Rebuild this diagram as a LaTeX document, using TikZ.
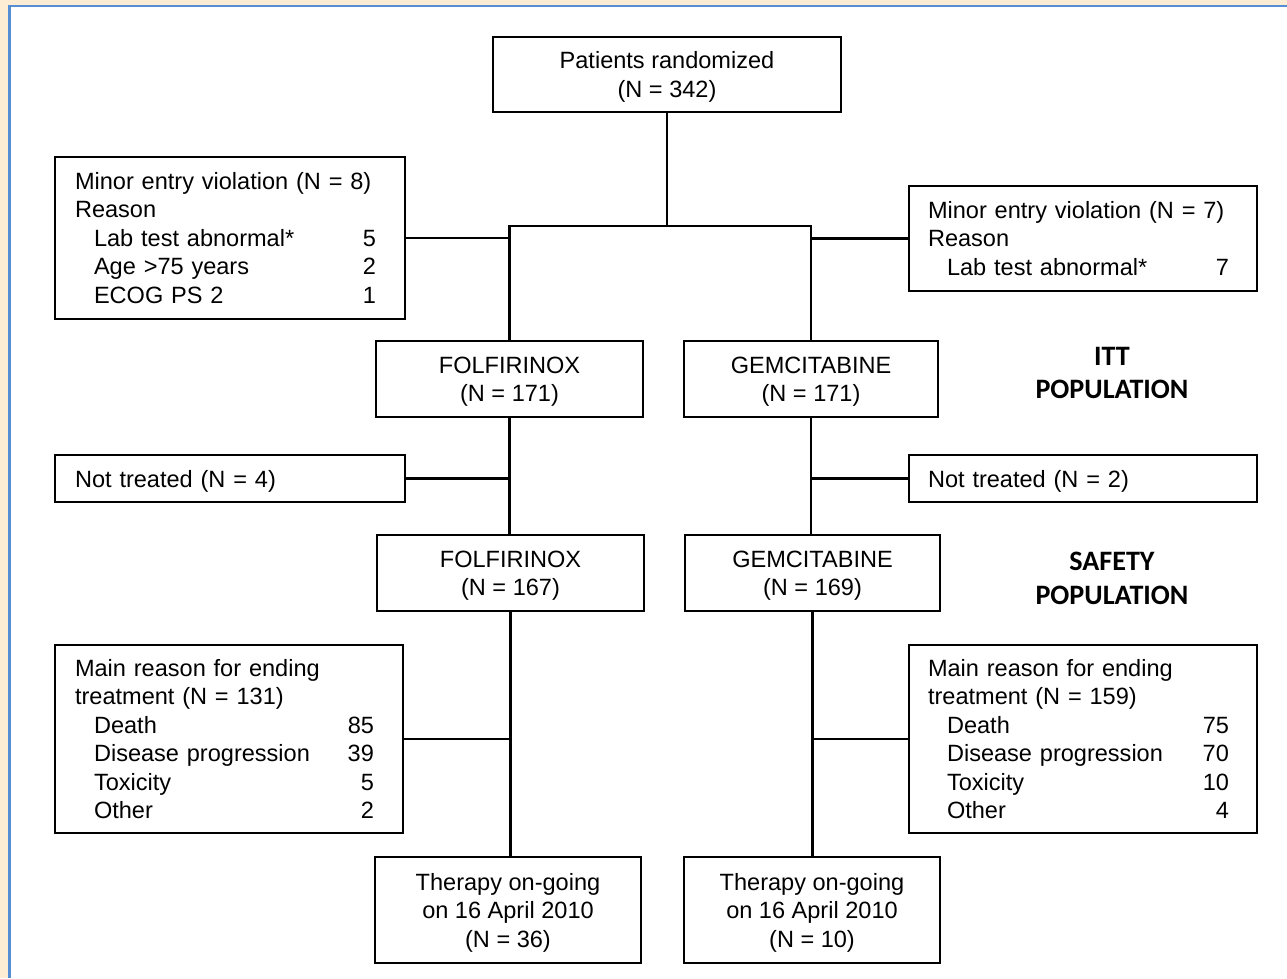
\documentclass[tikz,border=0pt]{standalone}
\usepackage{fontspec}
\setmainfont{Liberation Sans}
\newfontfamily\popfont{Carlito}
\usetikzlibrary{positioning,calc}
\definecolor{cream}{HTML}{FDEDD5}
\definecolor{frameblue}{HTML}{558ED5}
\newcommand{\itm}[2]{\hspace*{0.38cm}#1\hskip 0pt plus 1fill #2\makebox[0.18cm]{}}

\begin{document}
\begin{tikzpicture}[x=0.02cm,y=-0.02cm,
  box/.style={shape=rectangle,draw,line width=1.6pt,inner sep=0pt,align=center,
    font=\fontsize{13.4}{16.2}\selectfont},
  cbox/.style={box,text depth=0pt},
  listbox/.style={box,align=left},
  pop/.style={align=center,font=\popfont\bfseries\fontsize{16}{19.3}\selectfont},
  link/.style={line width=1.5pt}]

\useasboundingbox (0,0) rectangle (1287,978);
\fill[cream] (0,0) rectangle (1287,978);
\fill[white] (9.5,6) rectangle (1287,978);
\draw[frameblue,line width=1.2pt] (9.5,978) |- (1287,6);

\node[cbox,minimum width=6.96cm,minimum height=1.5cm] (R) at (667,74.5) {Patients randomized\\(N = 342)};
\node[listbox,minimum width=7cm,minimum height=3.24cm,text width=6.2cm] (VL) at (230,238)
  {Minor entry violation (N = 8)\\Reason\\\itm{Lab test abnormal*}{5}\\\itm{Age >75 years}{2}\\\itm{ECOG PS 2}{1}};
\node[listbox,minimum width=6.96cm,minimum height=2.1cm,text width=6.2cm] (VR) at (1083,238.5)
  {Minor entry violation (N = 7)\\Reason\\\itm{Lab test abnormal*}{7}};
\node[cbox,minimum width=5.34cm,minimum height=1.52cm] (F1) at (509.5,379) {FOLFIRINOX\\(N = 171)};
\node[cbox,minimum width=5.08cm,minimum height=1.52cm] (G1) at (811,379) {GEMCITABINE\\(N = 171)};
\node[pop] (itt) at (1112,373) {ITT\\POPULATION};
\node[listbox,text depth=0pt,minimum width=7cm,minimum height=0.94cm,text width=6.2cm] (NL) at (230,478.5) {Not treated (N = 4)};
\node[listbox,text depth=0pt,minimum width=6.96cm,minimum height=0.94cm,text width=6.2cm] (NR) at (1083,478.5) {Not treated (N = 2)};
\node[cbox,minimum width=5.34cm,minimum height=1.52cm] (F2) at (510.5,573) {FOLFIRINOX\\(N = 167)};
\node[cbox,minimum width=5.1cm,minimum height=1.52cm] (G2) at (812.5,573) {GEMCITABINE\\(N = 169)};
\node[pop] (safety) at (1112,578) {SAFETY\\POPULATION};
\node[listbox,minimum width=6.96cm,minimum height=3.76cm,text width=6.16cm] (ML) at (229,739)
  {Main reason for ending\\treatment (N = 131)\\\itm{Death}{85}\\\itm{Disease progression}{39}\\\itm{Toxicity}{5}\\\itm{Other}{2}};
\node[listbox,minimum width=6.96cm,minimum height=3.76cm,text width=6.2cm] (MR) at (1083,739)
  {Main reason for ending\\treatment (N = 159)\\\itm{Death}{75}\\\itm{Disease progression}{70}\\\itm{Toxicity}{10}\\\itm{Other}{4}};
\node[cbox,minimum width=5.32cm,minimum height=2.12cm] (TL) at (508,910) {Therapy on-going\\on 16 April 2010\\(N = 36)};
\node[cbox,minimum width=5.12cm,minimum height=2.12cm] (TR) at (812,910) {Therapy on-going\\on 16 April 2010\\(N = 10)};

\coordinate (S) at (667,226);
\draw[link] (R.south) -- (S);
\draw[link] (F1.north) |- (S) -| (G1.north);
\draw[link] (VL.east) -- (VL.east -| F1.north);
\draw[link] (VR.west) -- (VR.west -| G1.north);
\draw[link] (F1.south) -- (F1.south |- F2.north);
\draw[link] (NL.east) -- (NL.east -| F1.south);
\draw[link] (G1.south) -- (G1.south |- G2.north);
\draw[link] (NR.west) -- (NR.west -| G1.south);
\draw[link] (F2.south) -- (F2.south |- TL.north);
\draw[link] (ML.east) -- (ML.east -| F2.south);
\draw[link] (G2.south) -- (G2.south |- TR.north);
\draw[link] (MR.west) -- (MR.west -| G2.south);
\end{tikzpicture}
\end{document}
